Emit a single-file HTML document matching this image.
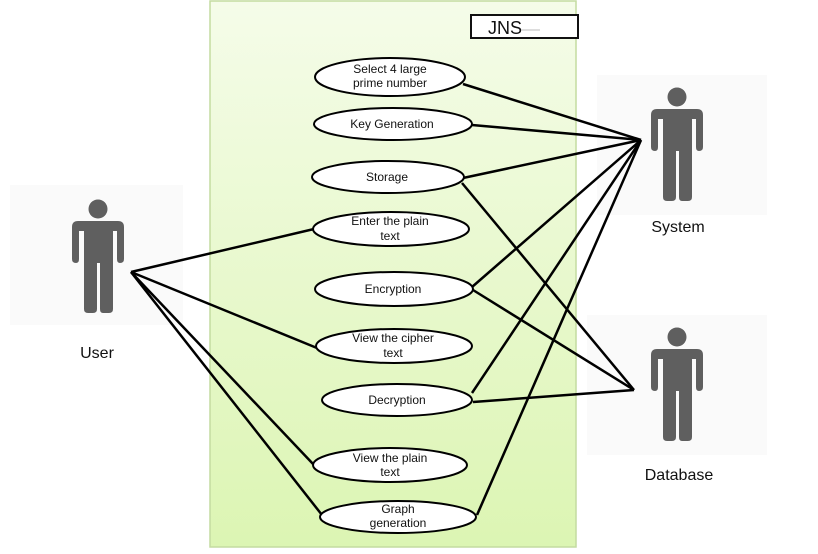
<!DOCTYPE html>
<html><head><meta charset="utf-8"><style>
html,body{margin:0;padding:0;background:#fff;}
svg{display:block;}
text{font-family:"Liberation Sans",sans-serif;fill:#111;}
</style></head><body>
<svg width="818" height="554" viewBox="0 0 818 554" xmlns="http://www.w3.org/2000/svg">
<defs>
<linearGradient id="g" x1="0" y1="0" x2="0" y2="1">
<stop offset="0" stop-color="#f5fce9"/><stop offset="1" stop-color="#dcf5b3"/>
</linearGradient>
<g id="fig" fill="#5f5f5f">
<circle cx="0" cy="0" r="9.5"/>
<path d="M-20,12 H20 Q26,12 26,18 V50 Q26,54 22,54 Q19,54 19,50 V22 H15 V100 Q15,104 11,104 H5 Q2,104 2,100 V54 H-1 V100 Q-1,104 -5,104 H-10 Q-14,104 -14,100 V22 H-19 V50 Q-19,54 -22,54 Q-26,54 -26,50 V18 Q-26,12 -20,12 Z"/>
</g>
</defs>
<rect x="210" y="1" width="366" height="546" fill="url(#g)" stroke="#c4dca0" stroke-width="1.5"/>
<rect x="10" y="185" width="173" height="140" fill="#fafafa"/>
<rect x="597" y="75" width="170" height="140" fill="#fafafa"/>
<rect x="587" y="315" width="180" height="140" fill="#fafafa"/>
<use href="#fig" x="98" y="209"/>
<use href="#fig" x="677" y="97"/>
<use href="#fig" x="677" y="337"/>
<text x="97" y="358" font-size="16" text-anchor="middle">User</text>
<text x="678" y="232" font-size="16" text-anchor="middle">System</text>
<text x="679" y="480" font-size="16" text-anchor="middle">Database</text>
<rect x="471" y="15" width="107" height="23" fill="#fff" stroke="#111" stroke-width="2"/>
<text x="488" y="34" font-size="18">JNS</text>
<line x1="521" y1="30" x2="540" y2="30" stroke="#bbb" stroke-width="1"/>
<g stroke="#000" stroke-width="2.5" fill="none">
<line x1="463" y1="84" x2="641" y2="140"/>
<line x1="472" y1="125" x2="641" y2="140"/>
<line x1="463" y1="178" x2="641" y2="140"/>
<line x1="472" y1="287" x2="641" y2="140"/>
<line x1="472" y1="393" x2="641" y2="140"/>
<line x1="477" y1="515" x2="641" y2="140"/>
<line x1="462" y1="183" x2="634" y2="390"/>
<line x1="473" y1="290" x2="634" y2="390"/>
<line x1="473" y1="402" x2="634" y2="390"/>
<line x1="131" y1="272" x2="314" y2="229"/>
<line x1="131" y1="272" x2="317" y2="348"/>
<line x1="131" y1="272" x2="314" y2="465"/>
<line x1="131" y1="272" x2="322" y2="515"/>
</g>
<g fill="#fff" stroke="#000" stroke-width="2">
<ellipse cx="390" cy="77" rx="75" ry="19"/>
<ellipse cx="393" cy="124" rx="79" ry="16"/>
<ellipse cx="388" cy="177" rx="76" ry="16"/>
<ellipse cx="391" cy="229" rx="78" ry="17"/>
<ellipse cx="394" cy="289" rx="79" ry="17"/>
<ellipse cx="394" cy="346" rx="78" ry="17"/>
<ellipse cx="397" cy="400" rx="75" ry="16"/>
<ellipse cx="390" cy="465" rx="77" ry="17"/>
<ellipse cx="398" cy="517" rx="78" ry="16"/>
</g>
<g font-size="12" text-anchor="middle">
<text x="390" y="73">Select 4  large</text>
<text x="390" y="87">prime number</text>
<text x="392" y="128">Key Generation</text>
<text x="387" y="181">Storage</text>
<text x="390" y="225">Enter the plain</text>
<text x="390" y="240">text</text>
<text x="393" y="293">Encryption</text>
<text x="393" y="342">View the cipher</text>
<text x="393" y="357">text</text>
<text x="397" y="404">Decryption</text>
<text x="390" y="462">View the plain</text>
<text x="390" y="476">text</text>
<text x="398" y="513">Graph</text>
<text x="398" y="527">generation</text>
</g>
</svg>
</body></html>
